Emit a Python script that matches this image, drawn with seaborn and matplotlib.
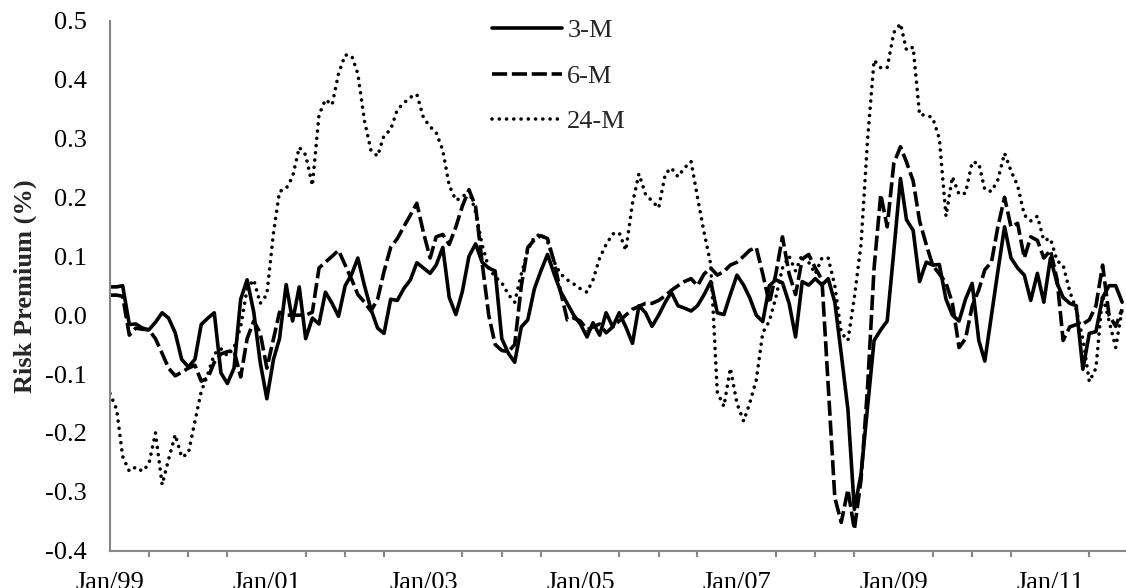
import pandas as pd
import numpy as np
import matplotlib
matplotlib.use("Agg")
import matplotlib.pyplot as plt
import matplotlib.dates as mdates
import matplotlib.ticker as mticker
import seaborn as sns

# ------------------------------
# data (monthly, Jan/99 - Dec/11)
# ------------------------------
start_month = "1999-01-01"

rp_3m = [
    0.048, 0.048, 0.05, -0.016, -0.015, -0.022, -0.025, -0.012, 0.004, -0.005, -0.03, -0.075,
    -0.088, -0.075, -0.016, -0.005, 0.004, -0.098, -0.116, -0.09, 0.027, 0.06, 0.005, -0.08,
    -0.142, -0.075, -0.04, 0.052, -0.01, 0.048, -0.04, -0.005, -0.015, 0.039, 0.02, -0.002,
    0.05, 0.07, 0.097, 0.05, 0.01, -0.022, -0.031, 0.027, 0.025, 0.045, 0.06, 0.089,
    0.08, 0.071, 0.085, 0.115, 0.03, 0.001, 0.04, 0.1, 0.121, 0.09, 0.08, 0.075,
    -0.04, -0.065, -0.08, -0.02, -0.008, 0.045, 0.075, 0.103, 0.07, 0.04, 0.02, 0.0,
    -0.015, -0.037, -0.013, -0.034, 0.004, -0.02, 0.004, -0.02, -0.048, 0.016, 0.004, -0.019,
    0.0, 0.022, 0.039, 0.016, 0.012, 0.007, 0.016, 0.035, 0.057, 0.004, 0.001, 0.035,
    0.068, 0.051, 0.03, 0.0, -0.011, 0.05, 0.06, 0.055, 0.02, -0.037, 0.057, 0.051,
    0.062, 0.051, 0.062, 0.022, -0.066, -0.16, -0.33, -0.27, -0.154, -0.043, -0.025, -0.01,
    0.109, 0.232, 0.162, 0.144, 0.057, 0.09, 0.085, 0.086, 0.027, 0.0, -0.01, 0.027,
    0.054, -0.043, -0.078, 0.0, 0.075, 0.15, 0.097, 0.08, 0.068, 0.025, 0.071, 0.022,
    0.097, 0.054, 0.03, 0.02, 0.016, -0.092, -0.031, -0.028, 0.03, 0.05, 0.05, 0.022,
]

rp_6m = [
    0.034, 0.034, 0.032, -0.034, -0.022, -0.024, -0.025, -0.04, -0.065, -0.09, -0.103, -0.097,
    -0.09, -0.085, -0.112, -0.107, -0.08, -0.066, -0.062, -0.06, -0.105, -0.04, -0.01, -0.03,
    -0.09, -0.04, 0.005, 0.0, 0.0, 0.0, 0.0, 0.005, 0.08, 0.09, 0.1, 0.11,
    0.085, 0.06, 0.035, 0.022, 0.007, 0.027, 0.074, 0.115, 0.13, 0.15, 0.17, 0.19,
    0.14, 0.097, 0.133, 0.137, 0.12, 0.15, 0.185, 0.213, 0.184, 0.09, 0.0, -0.05,
    -0.06, -0.062, -0.05, 0.05, 0.115, 0.128, 0.135, 0.13, 0.09, 0.04, -0.008, -0.005,
    -0.01, -0.025, -0.02, -0.015, -0.03, -0.02, -0.01, 0.0, 0.01, 0.015, 0.02, 0.02,
    0.025, 0.033, 0.042, 0.05, 0.057, 0.062, 0.05, 0.07, 0.08, 0.068, 0.074, 0.085,
    0.09, 0.1, 0.11, 0.115, 0.07, 0.02, 0.07, 0.133, 0.07, 0.035, 0.095, 0.103,
    0.08, 0.06, -0.12, -0.31, -0.352, -0.296, -0.364, -0.28, -0.12, 0.08, 0.205, 0.15,
    0.258, 0.286, 0.26, 0.228, 0.16, 0.12, 0.085, 0.07, 0.055, 0.02, -0.055, -0.04,
    0.015, 0.043, 0.077, 0.09, 0.15, 0.2, 0.15, 0.156, 0.097, 0.133, 0.127, 0.097,
    0.11, 0.06, -0.043, -0.02, -0.016, -0.015, -0.008, 0.016, 0.085, 0.0, -0.019, 0.01,
]

rp_24m = [
    -0.133, -0.16, -0.24, -0.265, -0.258, -0.265, -0.253, -0.2, -0.288, -0.245, -0.203, -0.241,
    -0.235, -0.18, -0.13, -0.1, -0.066, -0.057, -0.069, -0.055, -0.02, 0.045, 0.06, 0.02,
    0.035, 0.14, 0.21, 0.215, 0.235, 0.285, 0.272, 0.22, 0.34, 0.366, 0.357, 0.41,
    0.442, 0.44, 0.41, 0.33, 0.28, 0.27, 0.305, 0.315, 0.349, 0.36, 0.37, 0.375,
    0.335, 0.32, 0.31, 0.28, 0.22, 0.195, 0.2, 0.212, 0.175, 0.12, 0.08, 0.065,
    0.055, 0.035, 0.022, 0.07, 0.11, 0.133, 0.138, 0.125, 0.09, 0.07, 0.06, 0.053,
    0.045, 0.039, 0.06, 0.097, 0.12, 0.138, 0.14, 0.11, 0.19, 0.24, 0.205, 0.194,
    0.182, 0.24, 0.25, 0.235, 0.25, 0.261, 0.2, 0.14, 0.086, -0.13, -0.155, -0.09,
    -0.15, -0.18, -0.15, -0.11, -0.03, -0.01, 0.03, 0.08, 0.1, 0.075, 0.103, 0.09,
    0.07, 0.097, 0.097, 0.05, -0.03, -0.043, 0.03, 0.12, 0.3, 0.433, 0.42, 0.42,
    0.48, 0.495, 0.45, 0.455, 0.34, 0.34, 0.335, 0.3, 0.168, 0.235, 0.205, 0.207,
    0.26, 0.258, 0.213, 0.21, 0.23, 0.275, 0.245, 0.22, 0.17, 0.16, 0.168, 0.127,
    0.13, 0.092, 0.085, 0.04, 0.01, -0.04, -0.113, -0.09, 0.035, -0.01, -0.055, 0.01,
]

series_names = ["3-M", "6-M", "24-M"]
major_tick_dates = ["1999-01-01", "2001-01-01", "2003-01-01", "2005-01-01",
                    "2007-01-01", "2009-01-01", "2011-01-01"]
y_ticks = [-0.4, -0.3, -0.2, -0.1, 0.0, 0.1, 0.2, 0.3, 0.4, 0.5]

# ------------------------------
# style
# ------------------------------
sns.set_style("white")
plt.rcParams["font.family"] = ["Liberation Serif", "DejaVu Serif"]

grey = "#868686"
lw = 2.6
line_styles = {
    "3-M": dict(linestyle="-"),
    "6-M": dict(linestyle=(0, (4.2, 1.3))),
    "24-M": dict(linestyle=(0, (0.01, 2.0)), dash_capstyle="round"),
}

dates = pd.date_range(start_month, periods=len(rp_3m), freq="MS")
df = pd.DataFrame({"date": dates, "3-M": rp_3m, "6-M": rp_6m, "24-M": rp_24m})

fig = plt.figure(figsize=(11.26, 5.88), dpi=100)
ax = fig.add_axes([110 / 1126, 37.3 / 588, 1016 / 1126, 530 / 588])

for name in series_names:
    sns.lineplot(data=df, x="date", y=name, ax=ax, color="black", lw=lw,
                 estimator=None, errorbar=None, label=name, **line_styles[name])

# ------------------------------
# axes
# ------------------------------
ax.set_ylim(-0.4, 0.5)
ax.set_xlim(pd.Timestamp("1999-01-01"), pd.Timestamp("2011-12-19"))

ax.set_yticks(y_ticks)
ax.yaxis.set_major_formatter(mticker.FormatStrFormatter("%.1f"))
ax.set_xticks(pd.to_datetime(major_tick_dates))
ax.xaxis.set_major_formatter(mdates.DateFormatter("%b/%y"))
ax.xaxis.set_minor_locator(mdates.MonthLocator(bymonth=[1, 7]))

ax.tick_params(axis="both", which="major", direction="inout", length=10, width=1.5,
               color=grey, labelsize=19, labelcolor="black")
ax.tick_params(axis="y", which="major", pad=11.5)
ax.tick_params(axis="x", which="major", pad=10.5)
ax.tick_params(axis="x", which="minor", direction="out", length=4.5, width=1.5,
               color=grey, bottom=True)

for side in ["top", "right"]:
    ax.spines[side].set_visible(False)
for side in ["left", "bottom"]:
    ax.spines[side].set_color(grey)
    ax.spines[side].set_linewidth(1.5)

ax.set_xlabel("")
ax.set_ylabel("Risk Premium (%)", fontsize=19, fontweight="bold")
ax.yaxis.set_label_coords(-0.072, 0.5)
ax.grid(False)

handles = ax.get_lines()[:3]
ax.legend(handles, series_names, loc="upper left",
          bbox_to_anchor=(492 / 1126, 1 - 19 / 588), bbox_transform=fig.transFigure,
          frameon=False, fontsize=19, handlelength=2.65, handletextpad=0.2,
          labelspacing=0.83, borderpad=0, borderaxespad=0)

fig.savefig("out.png", dpi=100)
